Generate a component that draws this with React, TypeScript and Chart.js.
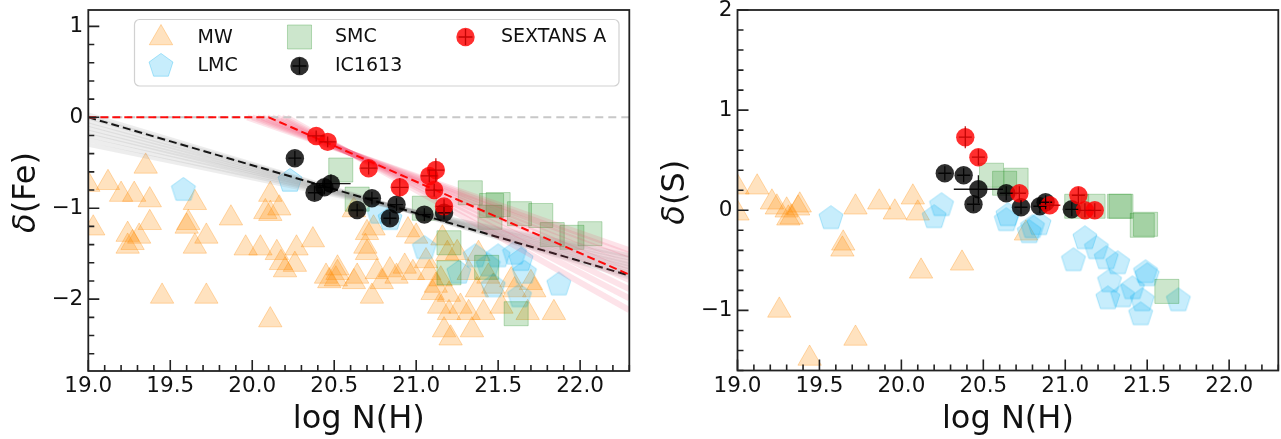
import React, { useEffect, useRef } from "react";
import { Chart, registerables } from "chart.js";

Chart.register(...registerables);

const FONT = "'DejaVu Sans', 'Liberation Sans', sans-serif";
const INK = "#111111";

// ---------------- δ(Fe) panel ----------------
const mwFeLogN = [
  19.0, 19.03, 19.12, 19.2, 19.28, 19.35, 19.375, 19.24, 19.27, 19.24, 19.31, 19.375, 19.45,
  19.65, 19.61, 19.6, 19.65, 19.72, 19.72, 19.87, 19.96, 20.05, 20.11, 20.08, 20.11, 20.165,
  20.15, 20.175, 20.2, 20.27, 20.26, 20.37, 20.11, 20.45, 20.47, 20.52, 20.64, 20.52, 20.51,
  20.62, 20.7, 20.7, 20.74, 20.73, 20.76, 20.84, 20.79, 20.95, 21.0, 20.93, 20.98, 21.08,
  21.1, 21.15, 21.14, 21.2, 21.17, 21.21, 21.16, 21.19, 21.25, 21.27, 21.32, 21.34, 21.37,
  21.38, 21.44, 21.47, 21.52, 21.58, 21.6, 21.7, 21.72, 21.68, 21.84, 21.41, 21.32, 20.62,
  20.69, 21.06, 21.12, 21.2, 20.88,
];
const mwFeDelta = [
  -0.74, -1.22, -0.72, -0.85, -0.85, -0.54, -0.91, -1.29, -1.38, -1.42, -1.31, -1.16, -1.97,
  -0.94, -1.16, -1.2, -1.42, -1.31, -1.97, -1.11, -1.44, -1.44, -0.85, -1.04, -1.06, -1.0,
  -1.49, -1.6, -1.68, -1.44, -1.62, -1.35, -2.23, -1.75, -1.8, -1.66, -1.75, -1.71, -1.78,
  -1.81, -1.27, -1.49, -1.22, -1.97, -1.7, -1.68, -1.81, -1.24, -1.31, -1.64, -1.71, -1.71,
  -1.93, -1.78, -2.08, -2.15, -2.34, -2.43, -1.33, -1.5, -1.49, -2.08, -2.15, -2.34, -1.9,
  -1.5, -1.75, -1.86, -2.08, -1.79, -1.9, -1.82, -1.9, -2.15, -2.15, -2.15, -1.71, -1.02,
  -1.42, -1.58, -1.85, -1.95, -1.75,
];
const lmcFeLogN = [19.58, 20.23, 20.77, 20.84, 21.05, 21.26, 21.36, 21.44, 21.5, 21.64, 21.66, 21.63, 21.87, 21.6, 21.47];
const lmcFeDelta = [-0.8, -0.7, -1.05, -1.12, -1.44, -1.71, -1.53, -1.63, -1.53, -1.57, -1.71, -1.97, -1.84, -1.5, -1.86];
const smcFeLogN = [20.54, 20.64, 21.05, 21.33, 21.46, 21.5, 21.63, 21.76, 21.83, 21.95, 22.06, 21.45, 21.43, 21.2, 21.61, 21.2];
const smcFeDelta = [-0.58, -0.9, -1.0, -0.83, -0.97, -0.96, -1.06, -1.08, -1.29, -1.32, -1.28, -1.1, -1.65, -1.71, -2.16, -1.38];
const icFeLogN = [20.26, 20.38, 20.44, 20.48, 20.64, 20.73, 20.84, 20.88, 21.05, 21.17];
const icFeDelta = [-0.45, -0.83, -0.77, -0.73, -1.02, -0.89, -1.11, -0.96, -1.07, -1.05];
const icFeErrLogN = [0.04, 0.04, 0.04, 0.12, 0.04, 0.04, 0.04, 0.04, 0.04, 0.04];
const icFeErrDelta = [0.08, 0.08, 0.08, 0.1, 0.07, 0.07, 0.07, 0.07, 0.07, 0.07];
const sexFeLogN = [20.39, 20.46, 20.71, 20.9, 21.08, 21.12, 21.11, 21.17];
const sexFeDelta = [-0.205, -0.27, -0.56, -0.77, -0.645, -0.58, -0.8, -0.98];
const sexFeErrLogN = [0.05, 0.05, 0.05, 0.05, 0.05, 0.05, 0.05, 0.05];
const sexFeErrDelta = [0.06, 0.06, 0.07, 0.1, 0.07, 0.13, 0.07, 0.08];

// Depletion fits (δ(Fe) vs log N(H))
const fitXStart = 19.0;
const fitXEnd = 22.3;
const icFitEnd = -1.74; // black dashed fit, starting at 0 at log N = 19
const grayFanStart = [0.03, 0.0, -0.04, -0.08, -0.12, -0.16, -0.2, -0.25, -0.3];
const grayFanEnd = [-1.76, -1.74, -1.71, -1.68, -1.65, -1.62, -1.59, -1.55, -1.52];
const sexFitBreak = 20.1; // red dashed fit: flat at 0 then declining
const sexFitEnd = -1.73;
const redFanBreak = [19.97, 20.0, 20.03, 20.06, 20.09, 20.12, 20.15, 20.18, 20.21];
const redFanEnd = [-1.46, -1.51, -1.57, -1.64, -1.71, -1.79, -1.89, -1.99, -2.12];

// ---------------- δ(S) panel ----------------
const mwSLogN = [
  19.0, 19.0, 19.12, 19.21, 19.24, 19.3, 19.33, 19.37, 19.38, 19.31, 19.645, 19.64, 19.255,
  19.72, 19.44, 19.72, 19.865, 19.96, 20.07, 20.1, 20.12, 20.37, 20.76,
];
const mwSDelta = [
  0.23, -0.03, 0.23, 0.08, 0.03, 0.0, -0.07, 0.02, 0.05, -0.08, -0.33, -0.39, -1.0,
  -1.28, -1.48, 0.03, 0.08, -0.02, 0.13, -0.03, -0.61, -0.53, -0.23,
];
const lmcSLogN = [
  19.57, 20.245, 20.2, 20.65, 20.64, 20.78, 20.8, 20.84, 21.12, 21.19, 21.05, 21.25, 21.32,
  21.27, 21.5, 21.49, 21.41, 21.26, 21.35, 21.47, 21.46, 21.69,
];
const lmcSDelta = [
  -0.08, 0.05, -0.07, -0.05, -0.1, -0.22, -0.17, -0.14, -0.28, -0.38, -0.5, -0.48, -0.53,
  -0.71, -0.65, -0.62, -0.78, -0.88, -0.86, -0.9, -1.04, -0.9,
];
const smcSLogN = [20.55, 20.63, 20.7, 21.07, 21.17, 21.33, 21.34, 21.47, 21.49, 21.62];
const smcSDelta = [0.35, 0.27, 0.3, 0.04, 0.04, 0.04, 0.04, -0.15, -0.14, -0.81];
const icSLogN = [20.265, 20.38, 20.47, 20.44, 20.64, 20.73, 20.845, 20.88, 21.04];
const icSDelta = [0.37, 0.35, 0.21, 0.06, 0.17, 0.03, 0.04, 0.08, 0.01];
const icSErrLogN = [0.04, 0.04, 0.15, 0.04, 0.04, 0.04, 0.04, 0.04, 0.04];
const icSErrDelta = [0.07, 0.07, 0.14, 0.07, 0.07, 0.07, 0.07, 0.07, 0.07];
const sexSLogN = [20.39, 20.47, 20.72, 20.905, 21.08, 21.12, 21.18];
const sexSDelta = [0.73, 0.53, 0.17, 0.05, 0.15, 0.0, 0.0];
const sexSErrLogN = [0.04, 0.04, 0.04, 0.065, 0.04, 0.04, 0.04];
const sexSErrDelta = [0.11, 0.08, 0.07, 0.05, 0.08, 0.07, 0.07];

// ---------------- axes ----------------
const xTicks = [19.0, 19.5, 20.0, 20.5, 21.0, 21.5, 22.0];
const xRange = [19.0, 22.3];
const feTicks = [-2, -1, 0, 1];
const feRange = [-2.79, 1.18];
const sTicks = [-1, 0, 1, 2];
const sRange = [-1.6, 2.0];

const legendLabels = ["MW", "LMC", "SMC", "IC1613", "SEXTANS A"];

// ---------------- styles ----------------
const MW_FILL = "rgba(255,140,0,0.25)";
const MW_EDGE = "rgba(255,140,0,0.3)";
const LMC_FILL = "rgba(0,175,240,0.22)";
const LMC_EDGE = "rgba(0,175,240,0.3)";
const SMC_FILL = "rgba(0,128,0,0.2)";
const SMC_EDGE = "rgba(0,128,0,0.25)";
const IC_FILL = "rgba(0,0,0,0.82)";
const SEX_FILL = "rgba(255,0,0,0.82)";

function makePentagon(r: number, fill: string, edge: string): HTMLCanvasElement {
  const size = Math.ceil(2 * r + 4);
  const c = document.createElement("canvas");
  c.width = size;
  c.height = size;
  const g = c.getContext("2d")!;
  g.beginPath();
  for (let k = 0; k < 5; k++) {
    const a = -Math.PI / 2 + (k * 2 * Math.PI) / 5;
    const px = size / 2 + r * Math.cos(a);
    const py = size / 2 + r * Math.sin(a);
    if (k === 0) g.moveTo(px, py);
    else g.lineTo(px, py);
  }
  g.closePath();
  g.fillStyle = fill;
  g.fill();
  g.strokeStyle = edge;
  g.lineWidth = 1;
  g.stroke();
  return c;
}

const pts = (xs: number[], ys: number[]) => xs.map((x, i) => ({ x, y: ys[i] }));

function scatterSet(label: string, xs: number[], ys: number[], style: any, order: number, extra: any = {}) {
  return {
    label,
    data: pts(xs, ys),
    showLine: false,
    order,
    clip: 0,
    ...style,
    ...extra,
  };
}

function lineSet(label: string, data: { x: number; y: number }[], color: string, width: number, dash: number[], order: number) {
  return {
    label,
    data,
    showLine: true,
    pointRadius: 0,
    borderColor: color,
    borderWidth: width,
    borderDash: dash,
    tension: 0,
    fill: false,
    order,
    clip: 0,
  };
}

// error bars from each dataset's xErr / yErr arrays
const errorBarPlugin = {
  id: "errorBars",
  afterDatasetsDraw(chart: any) {
    const { ctx, chartArea, scales } = chart;
    const sx = scales.x;
    const sy = scales.y;
    ctx.save();
    ctx.beginPath();
    ctx.rect(chartArea.left, chartArea.top, chartArea.right - chartArea.left, chartArea.bottom - chartArea.top);
    ctx.clip();
    chart.data.datasets.forEach((ds: any) => {
      if (!ds.xErr) return;
      ctx.strokeStyle = ds.errColor;
      ctx.lineWidth = 1.3;
      ds.data.forEach((p: any, i: number) => {
        const px = sx.getPixelForValue(p.x);
        const py = sy.getPixelForValue(p.y);
        ctx.beginPath();
        ctx.moveTo(sx.getPixelForValue(p.x - ds.xErr[i]), py);
        ctx.lineTo(sx.getPixelForValue(p.x + ds.xErr[i]), py);
        ctx.moveTo(px, sy.getPixelForValue(p.y - ds.yErr[i]));
        ctx.lineTo(px, sy.getPixelForValue(p.y + ds.yErr[i]));
        ctx.stroke();
      });
    });
    ctx.restore();
  },
};

// axes frame with inward major/minor ticks on the left and bottom spines
const framePlugin = {
  id: "frame",
  afterDraw(chart: any, _args: any, opts: any) {
    const { ctx, chartArea: a, scales } = chart;
    const sx = scales.x;
    const sy = scales.y;
    ctx.save();
    ctx.strokeStyle = "#222";
    ctx.lineWidth = 1.6;
    ctx.lineCap = "butt";
    const major = 11;
    const minor = 6;
    const tick = (v: number, len: number, horiz: boolean) => {
      if (horiz) {
        const p = sx.getPixelForValue(v);
        ctx.moveTo(p, a.bottom);
        ctx.lineTo(p, a.bottom - len);
      } else {
        const p = sy.getPixelForValue(v);
        ctx.moveTo(a.left, p);
        ctx.lineTo(a.left + len, p);
      }
    };
    ctx.beginPath();
    const xStep = opts.xMinor;
    for (let k = Math.ceil(sx.min / xStep - 1e-6); k * xStep <= sx.max + 1e-6; k++) {
      const v = Math.round(k * xStep * 1000) / 1000;
      tick(v, opts.xMajor.includes(v) ? major : minor, true);
    }
    const yStep = opts.yMinor;
    for (let k = Math.ceil(sy.min / yStep - 1e-6); k * yStep <= sy.max + 1e-6; k++) {
      const v = Math.round(k * yStep * 1000) / 1000;
      tick(v, opts.yMajor.includes(v) ? major : minor, false);
    }
    ctx.stroke();
    ctx.lineWidth = 1.8;
    ctx.strokeRect(a.left, a.top, a.right - a.left, a.bottom - a.top);
    ctx.restore();
  },
};

// y-axis title with an italic δ followed by the upright element name
const yTitlePlugin = {
  id: "yTitle",
  afterDraw(chart: any, _args: any, opts: any) {
    const { ctx, chartArea: a } = chart;
    const parts: { t: string; italic: boolean }[] = opts.parts;
    const fontFor = (it: boolean) => `${it ? "italic " : ""}32px ${FONT}`;
    ctx.save();
    let total = 0;
    const widths = parts.map((p) => {
      ctx.font = fontFor(p.italic);
      const w = ctx.measureText(p.t).width;
      total += w;
      return w;
    });
    ctx.translate(opts.cx, (a.top + a.bottom) / 2 + 2);
    ctx.rotate(-Math.PI / 2);
    ctx.fillStyle = INK;
    ctx.textBaseline = "middle";
    ctx.textAlign = "left";
    let x = -total / 2;
    parts.forEach((p, i) => {
      ctx.font = fontFor(p.italic);
      ctx.fillText(p.t, x, 0);
      x += widths[i];
    });
    ctx.restore();
  },
};

// three-column legend box inside the δ(Fe) axes
const legendPlugin = {
  id: "gridLegend",
  afterDraw(chart: any, _args: any, opts: any) {
    if (!opts || !opts.display) return;
    const { ctx } = chart;
    const { x0, y0, w, h, items } = opts;
    ctx.save();
    const r = 5;
    ctx.beginPath();
    ctx.moveTo(x0 + r, y0);
    ctx.arcTo(x0 + w, y0, x0 + w, y0 + h, r);
    ctx.arcTo(x0 + w, y0 + h, x0, y0 + h, r);
    ctx.arcTo(x0, y0 + h, x0, y0, r);
    ctx.arcTo(x0, y0, x0 + w, y0, r);
    ctx.closePath();
    ctx.fillStyle = "rgba(255,255,255,0.8)";
    ctx.fill();
    ctx.strokeStyle = "rgba(204,204,204,0.9)";
    ctx.lineWidth = 1.2;
    ctx.stroke();
    items.forEach((it: any) => {
      const ds = chart.data.datasets.find((d: any) => d.label === it.label);
      if (!ds) return;
      const mx = it.mx;
      const my = it.my;
      ctx.fillStyle = ds.pointBackgroundColor;
      ctx.strokeStyle = ds.pointBorderColor;
      ctx.lineWidth = 1;
      const style = ds.pointStyle;
      const rad = ds.pointRadius;
      ctx.beginPath();
      if (style === "triangle") {
        for (let k = 0; k < 3; k++) {
          const ang = (k * 2 * Math.PI) / 3;
          const px = mx + Math.sin(ang) * rad;
          const py = my - Math.cos(ang) * rad;
          if (k === 0) ctx.moveTo(px, py);
          else ctx.lineTo(px, py);
        }
        ctx.closePath();
        ctx.fill();
        ctx.stroke();
      } else if (style === "rect") {
        const s = rad * Math.SQRT1_2;
        ctx.rect(mx - s, my - s, 2 * s, 2 * s);
        ctx.fill();
        ctx.stroke();
      } else if (style === "circle") {
        ctx.arc(mx, my, rad, 0, Math.PI * 2);
        ctx.fill();
        if (ds.errColor) {
          ctx.strokeStyle = ds.errColor;
          ctx.lineWidth = 1.3;
          ctx.beginPath();
          ctx.moveTo(mx - 7, my);
          ctx.lineTo(mx + 7, my);
          ctx.moveTo(mx, my - 8);
          ctx.lineTo(mx, my + 8);
          ctx.stroke();
        }
      } else if (style instanceof HTMLCanvasElement) {
        ctx.drawImage(style, mx - style.width / 2, my - style.height / 2);
      }
      ctx.fillStyle = INK;
      ctx.font = `19px ${FONT}`;
      ctx.textBaseline = "middle";
      ctx.textAlign = "left";
      ctx.fillText(it.label, it.tx, my);
    });
    ctx.restore();
  },
};

const fmtMinus = (v: number) => (v < 0 ? "\u2212" + Math.abs(v) : String(v));

interface PanelSpec {
  width: number;
  yAxisWidth: number;
  rightPad: number;
  xAxisHeight: number;
  yRange: number[];
  yTicks: number[];
  yTitle: { parts: { t: string; italic: boolean }[]; cx: number };
  datasets: any[];
  legend: any;
}

function buildConfig(spec: PanelSpec): any {
  return {
    type: "scatter",
    data: { datasets: spec.datasets },
    options: {
      responsive: false,
      animation: false,
      devicePixelRatio: 1,
      events: [],
      layout: { autoPadding: false, padding: { left: 0, top: 10, right: spec.rightPad, bottom: 0 } },
      plugins: {
        legend: { display: false },
        tooltip: { enabled: false },
        frame: { xMinor: 0.1, yMinor: 0.2, xMajor: xTicks, yMajor: spec.yTicks },
        gridLegend: spec.legend,
        yTitle: spec.yTitle,
      },
      scales: {
        x: {
          type: "linear",
          min: xRange[0],
          max: xRange[1],
          grid: { display: false, drawTicks: false },
          border: { display: false },
          afterBuildTicks: (s: any) => {
            s.ticks = xTicks.map((v) => ({ value: v }));
          },
          afterFit: (s: any) => {
            s.height = spec.xAxisHeight;
            s.paddingLeft = 0;
            s.paddingRight = 0;
          },
          ticks: {
            autoSkip: false,
            maxRotation: 0,
            padding: 3,
            color: INK,
            font: { family: FONT, size: 21.5 },
            callback: (v: any) => Number(v).toFixed(1),
          },
          title: {
            display: true,
            text: "log N(H)",
            color: INK,
            font: { family: FONT, size: 32 },
            padding: { top: 0, bottom: 0 },
          },
        },
        y: {
          type: "linear",
          min: spec.yRange[0],
          max: spec.yRange[1],
          grid: { display: false, drawTicks: false },
          border: { display: false },
          afterBuildTicks: (s: any) => {
            s.ticks = spec.yTicks.map((v) => ({ value: v }));
          },
          afterFit: (s: any) => {
            s.width = spec.yAxisWidth;
            s.paddingTop = 0;
            s.paddingBottom = 0;
          },
          ticks: {
            autoSkip: false,
            padding: 5,
            color: INK,
            font: { family: FONT, size: 21.5 },
            callback: (v: any) => fmtMinus(Number(v)),
          },
          title: { display: false },
        },
      },
    },
    plugins: [errorBarPlugin, framePlugin, legendPlugin, yTitlePlugin],
  };
}

function markerStyles() {
  const pent = makePentagon(12.6, LMC_FILL, LMC_EDGE);
  return {
    mw: { pointStyle: "triangle", pointRadius: 13.5, pointBackgroundColor: MW_FILL, pointBorderColor: MW_EDGE, pointBorderWidth: 1 },
    lmc: { pointStyle: pent, pointRadius: 13, pointBackgroundColor: LMC_FILL, pointBorderColor: LMC_EDGE },
    smc: { pointStyle: "rect", pointRadius: 17, pointBackgroundColor: SMC_FILL, pointBorderColor: SMC_EDGE, pointBorderWidth: 1 },
    ic: { pointStyle: "circle", pointRadius: 9.2, pointBackgroundColor: IC_FILL, pointBorderColor: "rgba(0,0,0,0)", pointBorderWidth: 0 },
    sex: { pointStyle: "circle", pointRadius: 9.2, pointBackgroundColor: SEX_FILL, pointBorderColor: "rgba(0,0,0,0)", pointBorderWidth: 0 },
  };
}

function feDatasets() {
  const st = markerStyles();
  const sets: any[] = [];
  sets.push(scatterSet(legendLabels[0], mwFeLogN, mwFeDelta, st.mw, 100));
  sets.push(scatterSet(legendLabels[1], lmcFeLogN, lmcFeDelta, st.lmc, 99));
  sets.push(scatterSet(legendLabels[2], smcFeLogN, smcFeDelta, st.smc, 98));
  grayFanStart.forEach((y0, i) => {
    sets.push(
      lineSet("", [{ x: fitXStart, y: y0 }, { x: fitXEnd, y: grayFanEnd[i] }], "rgba(150,150,150,0.17)", 4.5, [], 90 - i)
    );
  });
  sets.push(lineSet("", [{ x: fitXStart, y: 0 }, { x: fitXEnd, y: icFitEnd }], "rgba(0,0,0,0.9)", 2, [8, 4], 70));
  redFanBreak.forEach((b, i) => {
    sets.push(
      lineSet("", [{ x: b, y: 0 }, { x: fitXEnd, y: redFanEnd[i] }], "rgba(240,70,110,0.15)", 6, [], 60 - i)
    );
  });
  sets.push(lineSet("", [{ x: fitXStart, y: 0 }, { x: fitXEnd, y: 0 }], "rgb(200,200,200)", 2, [8, 5], 40));
  sets.push(
    lineSet("", [{ x: fitXStart, y: 0 }, { x: sexFitBreak, y: 0 }, { x: fitXEnd, y: sexFitEnd }], "rgba(255,0,0,0.95)", 2, [8, 4], 30)
  );
  sets.push(
    scatterSet(legendLabels[3], icFeLogN, icFeDelta, st.ic, 20, { xErr: icFeErrLogN, yErr: icFeErrDelta, errColor: "rgba(0,0,0,0.9)" })
  );
  sets.push(
    scatterSet(legendLabels[4], sexFeLogN, sexFeDelta, st.sex, 10, { xErr: sexFeErrLogN, yErr: sexFeErrDelta, errColor: "rgba(190,0,0,0.9)" })
  );
  return sets;
}

function sDatasets() {
  const st = markerStyles();
  return [
    scatterSet(legendLabels[0], mwSLogN, mwSDelta, st.mw, 100),
    scatterSet(legendLabels[1], lmcSLogN, lmcSDelta, st.lmc, 99),
    scatterSet(legendLabels[2], smcSLogN, smcSDelta, st.smc, 98),
    scatterSet(legendLabels[3], icSLogN, icSDelta, st.ic, 20, { xErr: icSErrLogN, yErr: icSErrDelta, errColor: "rgba(0,0,0,0.9)" }),
    scatterSet(legendLabels[4], sexSLogN, sexSDelta, st.sex, 10, { xErr: sexSErrLogN, yErr: sexSErrDelta, errColor: "rgba(190,0,0,0.9)" }),
  ];
}

const feLegend = {
  display: true,
  x0: 134.5,
  y0: 19.5,
  w: 484.5,
  h: 66.5,
  items: [
    { label: "MW", mx: 161, my: 38, tx: 197.5 },
    { label: "LMC", mx: 161, my: 66, tx: 197.5 },
    { label: "SMC", mx: 299.5, my: 37, tx: 335 },
    { label: "IC1613", mx: 299.5, my: 66, tx: 335 },
    { label: "SEXTANS A", mx: 465.5, my: 37, tx: 501 },
  ],
};

function Panel({ which, left, width }: { which: "fe" | "s"; left: number; width: number }) {
  const ref = useRef<HTMLCanvasElement>(null);
  useEffect(() => {
    const spec: PanelSpec =
      which === "fe"
        ? {
            width,
            yAxisWidth: 88.3,
            rightPad: 10.7,
            xAxisHeight: 68,
            yRange: feRange,
            yTicks: feTicks,
            yTitle: { parts: [{ t: "δ", italic: true }, { t: "(Fe)", italic: false }], cx: 27 },
            datasets: feDatasets(),
            legend: feLegend,
          }
        : {
            width,
            yAxisWidth: 97.5,
            rightPad: 2.7,
            xAxisHeight: 68.5,
            yRange: sRange,
            yTicks: sTicks,
            yTitle: { parts: [{ t: "δ", italic: true }, { t: "(S)", italic: false }], cx: 35.6 },
            datasets: sDatasets(),
            legend: { display: false },
          };
    const chart = new Chart(ref.current!, buildConfig(spec));
    return () => chart.destroy();
  }, [which, width]);
  return (
    <canvas
      ref={ref}
      width={width}
      height={439}
      style={{ position: "absolute", left, top: 0, width, height: 439, display: "block" }}
    />
  );
}

export default function App() {
  return (
    <div style={{ position: "absolute", left: 0, top: 0, width: 1281, height: 439, background: "#ffffff", overflow: "hidden" }}>
      <Panel which="fe" left={0} width={640} />
      <Panel which="s" left={640} width={641} />
    </div>
  );
}
